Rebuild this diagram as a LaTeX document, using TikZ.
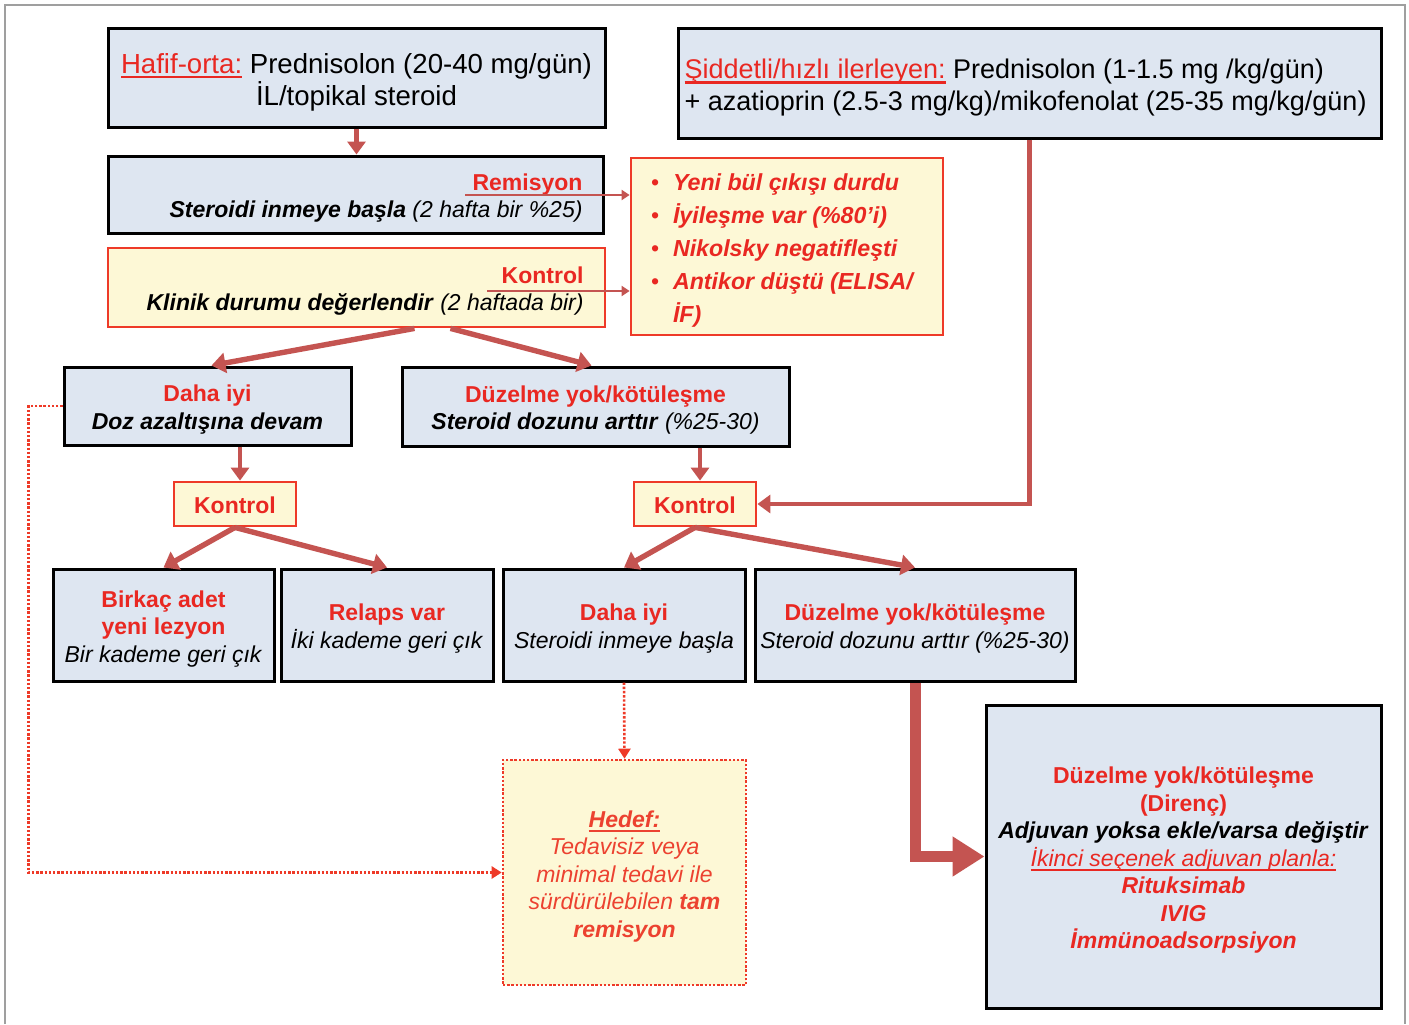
\documentclass[tikz,border=0pt]{standalone}
\usepackage{fontspec}
\setmainfont{Liberation Sans}
\usepackage{tikz}
\usetikzlibrary{arrows,arrows.meta,positioning,calc}
\definecolor{boxblue}{RGB}{222,230,241}
\definecolor{boxyel}{RGB}{253,248,214}
\definecolor{tred}{RGB}{233,40,34}
\definecolor{hred}{RGB}{236,66,48}
\definecolor{bred}{RGB}{238,58,40}
\definecolor{ared}{RGB}{196,84,81}
\newcommand{\topstr}{\rule{0pt}{1.06em}}
\newcommand{\botstr}{\rule[-0.215em]{0pt}{0.215em}}
\tikzstyle{bluebox}=[draw=black,fill=boxblue,line width=1.5pt,inner sep=0pt,align=flush center,
  execute at begin node=\topstr,execute at end node=\botstr]
\tikzstyle{yelbox}=[draw=bred,fill=boxyel,line width=1.4pt,inner sep=0pt,align=flush center,
  execute at begin node=\topstr,execute at end node=\botstr]
\tikzstyle{conn}=[draw=ared,line width=2.2pt,-{Triangle[width=9pt,length=6.5pt]}]
\tikzstyle{fatconn}=[draw=ared,line width=2.7pt,-{Triangle[width=10pt,length=7pt]}]
\tikzstyle{thinconn}=[draw=ared,line width=1.1pt,-{Triangle[width=5pt,length=4pt]}]
\tikzstyle{dotconn}=[draw=bred,line width=1.3pt,dash pattern=on 1.2pt off 0.9pt,-{Triangle[width=6pt,length=5pt]}]
\tikzstyle{bigconn}=[draw=ared,line width=5.5pt,-{Triangle[width=19pt,length=16pt]}]
\tikzset{sz/.style 2 args={minimum width={#1*0.5pt},minimum height={#2*0.5pt},text width={#1*0.5pt-3pt}}}
\newcommand{\bigf}{\fontsize{13.5}{16}\selectfont}
\newcommand{\smf}{\fontsize{11.5}{13.75}\selectfont}
\newcommand{\listf}{\fontsize{11.6}{16.5}\selectfont\bfseries\itshape}
\newcommand{\bul}{\makebox[11pt][l]{\upshape\mdseries\textbullet}}
\newcommand{\undr}[1]{\setbox0=\hbox{#1}\rlap{\vrule width\wd0 height -1.5pt depth 2.6pt}\box0}
\newcommand{\redtxt}[1]{\textcolor{tred}{#1}}
\begin{document}
\begin{tikzpicture}[x=0.5pt,y=-0.5pt]
\useasboundingbox (0,0) rectangle (1409,1024);
\draw[gray!75,line width=0.6pt] (5,1024) -- (5,5) -- (1405,5) -- (1405,1024);
\node[bluebox,sz={497}{99},font=\fontsize{13.8}{16}\selectfont] (hafif) at (356.5,77.5) {\redtxt{\undr{Hafif-orta:}} Prednisolon (20-40 mg/gün)\\İL/topikal steroid};
\node[bluebox,sz={703}{110},font=\bigf,text width=345pt,align=flush left] (siddet) at (1029.5,83) {\redtxt{\undr{Şiddetli/hızlı ilerleyen:}} Prednisolon (1-1.5 mg /kg/gün)\\+ azatioprin (2.5-3 mg/kg)/mikofenolat (25-35 mg/kg/gün)};
\node[bluebox,sz={495}{77},font=\smf,text width=227pt,align=flush right] (inme) at (355.5,194.5) {\redtxt{\textbf{Remisyon}}\\\textbf{\textit{Steroidi inmeye başla}} \textit{(2 hafta bir \%25)}};
\node[yelbox,sz={497}{79},font=\smf,text width=227pt,align=flush right] (klinik) at (356.5,287.5) {\redtxt{\textbf{Kontrol}}\\\textbf{\textit{Klinik durumu değerlendir}} \textit{(2 haftada bir)}};
\node[yelbox,sz={312}{177},font=\listf,text=tred,text width=136pt,align=flush left] (liste) at (787,246.5) {\bul Yeni bül çıkışı durdu\\\bul İyileşme var (\%80’i)\\\bul Nikolsky negatifleşti\\\bul Antikor düştü (ELISA/\\\hspace*{11pt}İF)};
\node[bluebox,sz={287}{78},font=\smf] (iyi1) at (207.5,406) {\redtxt{\textbf{Daha iyi}}\\\textbf{\textit{Doz azaltışına devam}}};
\node[bluebox,sz={387}{79},font=\smf] (kotu1) at (595.5,406.5) {\redtxt{\textbf{Düzelme yok/kötüleşme}}\\\textbf{\textit{Steroid dozunu arttır}} \textit{(\%25-30)}};
\node[yelbox,sz={122}{44},font=\smf\bfseries,text=tred] (kont1) at (235,504) {Kontrol};
\node[yelbox,sz={122}{44},font=\smf\bfseries,text=tred] (kont2) at (695,504) {Kontrol};
\node[bluebox,sz={221}{112},font=\smf] (birkac) at (163.5,625) {\redtxt{\textbf{Birkaç adet}}\\\redtxt{\textbf{yeni lezyon}}\\\textit{Bir kademe geri çık}};
\node[bluebox,sz={212}{112},font=\smf] (relaps) at (387,625) {\redtxt{\textbf{Relaps var}}\\\textit{İki kademe geri çık}};
\node[bluebox,sz={242}{112},font=\smf] (iyi2) at (624,625) {\redtxt{\textbf{Daha iyi}}\\\textit{Steroidi inmeye başla}};
\node[bluebox,sz={320}{112},font=\smf] (kotu2) at (915,625) {\redtxt{\textbf{Düzelme yok/kötüleşme}}\\\textit{Steroid dozunu arttır (\%25-30)}};
\node[yelbox,dash pattern=on 1.2pt off 0.9pt,line width=1.3pt,sz={243}{225},font=\smf\itshape,text=hred] (hedef) at (624.5,872.5) {\undr{\textbf{Hedef:}}\\Tedavisiz veya\\minimal tedavi ile\\sürdürülebilen \textbf{tam}\\\textbf{remisyon}};
\node[bluebox,sz={395}{303},font=\smf] (direnc) at (1183.5,856.5) {\redtxt{\textbf{Düzelme yok/kötüleşme}}\\\redtxt{\textbf{(Direnç)}}\\\textbf{\textit{Adjuvan yoksa ekle/varsa değiştir}}\\\redtxt{\undr{\textit{İkinci seçenek adjuvan planla:}}}\\\redtxt{\textbf{\textit{Rituksimab}}}\\\redtxt{\textbf{\textit{IVIG}}}\\\redtxt{\textbf{\textit{İmmünoadsorpsiyon}}}};
\coordinate (rem) at (465,195);
\coordinate (kon) at (487,291);
\draw[conn] (hafif.south) -- (hafif.south |- inme.north);
\draw[thinconn] (rem) -- (rem -| liste.west);
\draw[thinconn] (kon) -- (kon -| liste.west);
\draw[fatconn] ([xshift=29pt]klinik.south) -- ([xshift=2pt]iyi1.north);
\draw[fatconn] ([xshift=47pt]klinik.south) -- ([xshift=-2pt]kotu1.north);
\draw[conn] ([xshift=2.5pt]kont1.north |- iyi1.south) -- ([xshift=2.5pt]kont1.north);
\draw[conn] ([xshift=2.5pt]kont2.north |- kotu1.south) -- ([xshift=2.5pt]kont2.north);
\draw[conn] (siddet.south) |- (kont2.east);
\draw[fatconn] (kont1.south) -- (birkac.north);
\draw[fatconn] (kont1.south) -- (relaps.north);
\draw[fatconn] (kont2.south) -- (iyi2.north);
\draw[fatconn] (kont2.south) -- (kotu2.north);
\draw[dotconn] (iyi2.south) -- (hedef.north);
\draw[dotconn] (iyi1.west) -- ++(-34,0) |- (hedef.west);
\draw[bigconn] (kotu2.south) |- (direnc.west);
\end{tikzpicture}
\end{document}
